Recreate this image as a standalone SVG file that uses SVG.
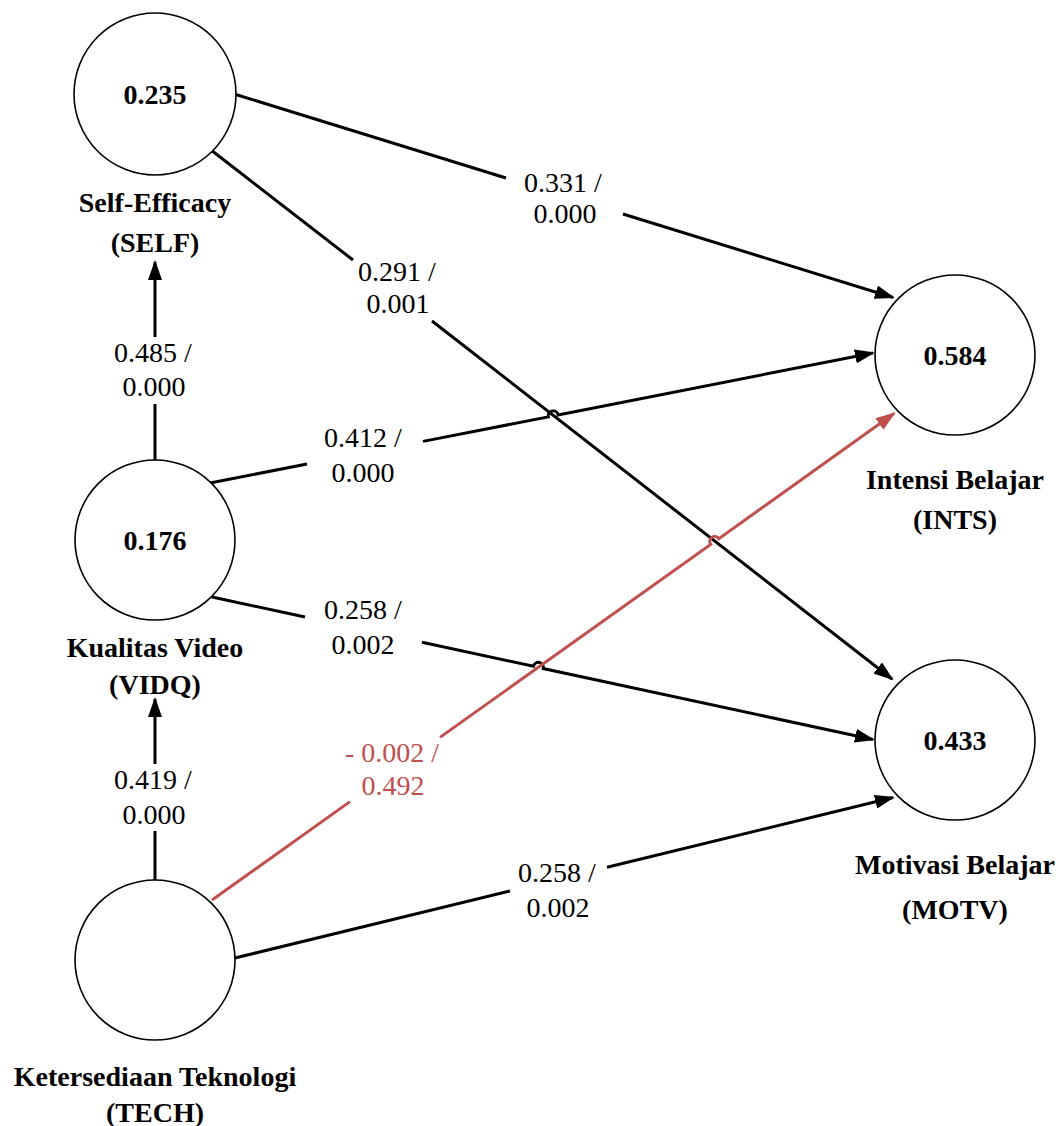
<svg xmlns="http://www.w3.org/2000/svg" width="1058" height="1126" viewBox="0 0 1058 1126">
<style>
.node{fill:#fff;stroke:#000;stroke-width:1.6}
.val{font-family:"Liberation Serif","Times New Roman",serif;font-size:28px;font-weight:bold;text-anchor:middle;fill:#000}
.name{font-family:"Liberation Serif","Times New Roman",serif;font-size:28px;font-weight:bold;text-anchor:middle;fill:#000}
.lbl{font-family:"Liberation Serif","Times New Roman",serif;font-size:28px;text-anchor:middle;fill:#000}
.lbl.red{fill:#C0504D}
.edge{fill:none;stroke:#000;stroke-width:3}
.edge.red{stroke:#C0504D}
</style>
<defs>
<marker id="ah" viewBox="0 0 20 14" markerWidth="20" markerHeight="14" refX="18" refY="7" orient="auto" markerUnits="userSpaceOnUse"><path d="M0,0 L20,7 L0,14 z" fill="#000"/></marker>
<marker id="ahr" viewBox="0 0 20 14" markerWidth="20" markerHeight="14" refX="18" refY="7" orient="auto" markerUnits="userSpaceOnUse"><path d="M0,0 L20,7 L0,14 z" fill="#C0504D"/></marker>
</defs>
<rect width="1058" height="1126" fill="#fff"/>
<g id="connectors">
<path class="edge" d="M234,94 L506,178 M623,214 L893,297.5" marker-end="url(#ah)"/>
<path class="edge" d="M211,150 L353,260 M432,321 L892,679" marker-end="url(#ah)"/>
<path class="edge" d="M155,460 L155,404 M155,337 L155,262" marker-end="url(#ah)"/>
<path class="edge" d="M210,483 L307,464 M423,441.4 L548.3,416.9 A5,5 0 0 1 558.1,414.9 L873,353" marker-end="url(#ah)"/>
<path class="edge" d="M212,597 L305,617 M422,642.3 L533.4,666.3 A5,5 0 0 1 543.2,668.5 L873,739.5" marker-end="url(#ah)"/>
<path class="edge" d="M155,880 L155,831 M155,764 L155,699" marker-end="url(#ah)"/>
<path class="edge red" d="M212,900 L350,801.6 M440,737.4 L710.7,544.4 A5,5 0 0 1 718.9,538.6 L894,413.5" marker-end="url(#ahr)"/>
<path class="edge" d="M235,958 L510,891 M607,867.2 L893,797.5" marker-end="url(#ah)"/>
</g>
<g id="edge-labels">
<text class="lbl" x="563" y="192">0.331 /</text>
<text class="lbl" x="565" y="223">0.000</text>
<text class="lbl" x="397" y="281">0.291 /</text>
<text class="lbl" x="398" y="313">0.001</text>
<text class="lbl" x="153" y="362">0.485 /</text>
<text class="lbl" x="154" y="396">0.000</text>
<text class="lbl" x="363" y="447">0.412 /</text>
<text class="lbl" x="363" y="482">0.000</text>
<text class="lbl" x="363" y="619">0.258 /</text>
<text class="lbl" x="363" y="654">0.002</text>
<text class="lbl" x="153" y="789">0.419 /</text>
<text class="lbl" x="154" y="824">0.000</text>
<text class="lbl red" x="392" y="762">- 0.002 /</text>
<text class="lbl red" x="393" y="795">0.492</text>
<text class="lbl" x="557" y="882">0.258 /</text>
<text class="lbl" x="558" y="917">0.002</text>
</g>
<g id="SELF">
<circle class="node" cx="155" cy="94" r="81"/>
<text class="val" x="155" y="104">0.235</text>
<text class="name" x="155" y="212">Self-Efficacy</text>
<text class="name" x="155" y="252">(SELF)</text>
</g>
<g id="VIDQ">
<circle class="node" cx="155" cy="540" r="80"/>
<text class="val" x="155" y="550">0.176</text>
<text class="name" x="155" y="657">Kualitas Video</text>
<text class="name" x="155" y="694">(VIDQ)</text>
</g>
<g id="TECH">
<circle class="node" cx="155" cy="960" r="80"/>
<text class="name" x="155" y="1086">Ketersediaan Teknologi</text>
<text class="name" x="155" y="1122">(TECH)</text>
</g>
<g id="INTS">
<circle class="node" cx="955" cy="355" r="80"/>
<text class="val" x="955" y="365">0.584</text>
<text class="name" x="955" y="489">Intensi Belajar</text>
<text class="name" x="955" y="529">(INTS)</text>
</g>
<g id="MOTV">
<circle class="node" cx="955" cy="740" r="80"/>
<text class="val" x="955" y="750">0.433</text>
<text class="name" x="955" y="874">Motivasi Belajar</text>
<text class="name" x="955" y="919">(MOTV)</text>
</g>
</svg>
